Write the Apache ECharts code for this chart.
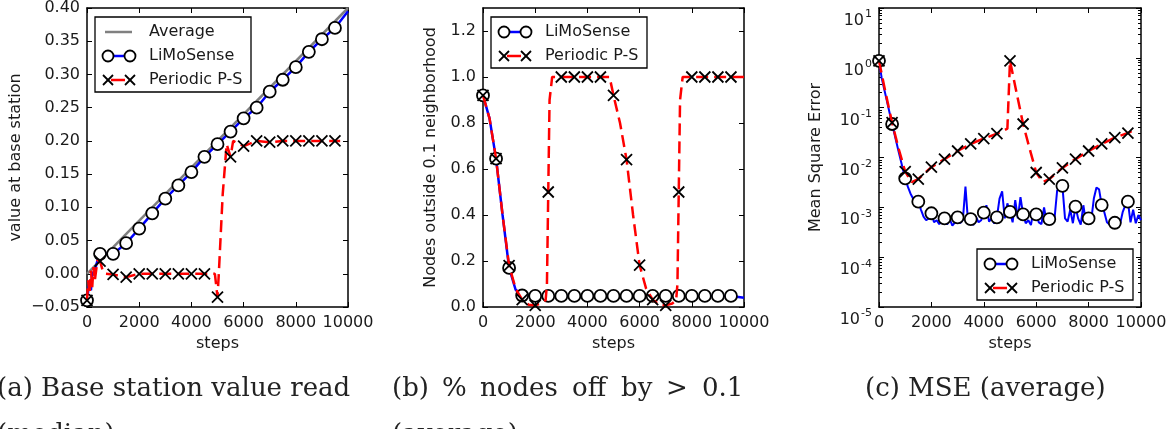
<!DOCTYPE html>
<html>
<head>
<meta charset="utf-8">
<script src="https://cdn.jsdelivr.net/npm/echarts@6/dist/echarts.min.js"></script>
<style>
  html, body { margin: 0; padding: 0; background: #fff; }
  #chart { width: 1173px; height: 429px; }
</style>
</head>
<body>
<div id="chart"></div>
<script>
// (a) value read at the base station (median)
const baseAvgSteps = [0, 10000];
const baseAvgValues = [0.0, 0.40];
const baseLimoSteps = [0, 100, 150, 200, 300, 400, 500, 1000, 1500, 2000, 2500, 3000, 3500, 4000, 4500,
    5000, 5500, 6000, 6500, 7000, 7500, 8000, 8500, 9000, 9500, 10000];
const baseLimoValues = [-0.04, -0.01, -0.025, 0.0, 0.005, 0.02, 0.03, 0.03, 0.046, 0.068, 0.091, 0.113, 0.133, 0.153, 0.176,
    0.195, 0.214, 0.234, 0.25, 0.274, 0.292, 0.311, 0.334, 0.353, 0.37, 0.395];
const basePsSteps = [0, 50, 100, 150, 200, 250, 300, 400, 500, 600, 700, 1000, 1500, 2000, 2500, 3000, 3500, 4000, 4500,
    4900, 5000, 5050, 5200, 5350, 5500, 5600, 6000, 6500, 7000, 7500, 8000, 8500, 9000, 9500, 9700];
const basePsValues = [-0.04, -0.01, -0.03, 0.005, -0.02, 0.01, -0.01, 0.02, 0.019, 0.005, 0.0, -0.001, -0.005, 0.0, 0.0, 0.0, 0.0, 0.0, 0.0,
    0.0, -0.035, 0.0, 0.12, 0.195, 0.176, 0.2, 0.192, 0.2, 0.198, 0.2, 0.2, 0.2, 0.2, 0.2, 0.2];

// (b) share of nodes outside the 0.1 neighborhood (average)
const nodesLimoSteps = [0, 250, 500, 750, 1000, 1250, 1500, 2000, 2500, 3000, 3500, 4000, 4500, 5000,
    5500, 6000, 6500, 7000, 7500, 8000, 8500, 9000, 9500, 10000];
const nodesLimoValues = [0.92, 0.82, 0.645, 0.4, 0.17, 0.075, 0.05, 0.048, 0.048, 0.048, 0.048, 0.048, 0.048, 0.048,
    0.048, 0.048, 0.048, 0.048, 0.048, 0.048, 0.048, 0.048, 0.048, 0.04];
const nodesPsSteps = [0, 250, 500, 750, 1000, 1250, 1500, 1750, 2000, 2200, 2400, 2450, 2500, 2550, 2650, 3000, 3500, 4000, 4500,
    4850, 5000, 5250, 5500, 5750, 6000, 6250, 6500, 6750, 7000, 7250, 7400, 7450, 7500, 7550, 7650, 8000, 8500, 9000, 9500, 10000];
const nodesPsValues = [0.92, 0.82, 0.645, 0.4, 0.18, 0.08, 0.032, 0.01, 0.007, 0.015, 0.03, 0.1, 0.5, 0.9, 1.0, 1.0, 1.0, 1.0, 1.0,
    1.0, 0.92, 0.8, 0.641, 0.4, 0.182, 0.08, 0.032, 0.01, 0.007, 0.015, 0.03, 0.1, 0.5, 0.9, 1.0, 1.0, 1.0, 1.0, 1.0, 1.0];

// (c) mean square error (average)
const mseLimoSteps = [0, 100, 250, 500, 750,
    1000, 1100, 1200, 1300, 1400, 1500, 1600, 1700, 1800, 1900,
    2000, 2100, 2200, 2300, 2400, 2500, 2600, 2700, 2800, 2900,
    3000, 3100, 3200, 3300, 3400, 3500, 3600, 3700, 3800, 3900,
    4000, 4100, 4200, 4300, 4400, 4500, 4600, 4700, 4800, 4900,
    5000, 5100, 5200, 5300, 5400, 5500, 5600, 5700, 5800, 5900,
    6000, 6100, 6200, 6300, 6400, 6500, 6600, 6700, 6800, 6900,
    7000, 7100, 7200, 7300, 7400, 7500, 7600, 7700, 7800, 7900,
    8000, 8100, 8200, 8300, 8400, 8500, 8600, 8700, 8800, 8900,
    9000, 9100, 9200, 9300, 9400, 9500, 9600, 9700, 9800, 9900,
    10000];
const mseLimoValues = [0.87, 0.4, 0.18, 0.047, 0.013,
    3.8e-3, 2.6e-3, 1.9e-3, 1.5e-3, 1.3e-3, 1.3e-3, 9e-4, 6.5e-4, 5.5e-4, 6e-4,
    7.6e-4, 5e-4, 5.5e-4, 4.6e-4, 5.2e-4, 6e-4, 4.5e-4, 5.8e-4, 4.3e-4, 5e-4,
    6.3e-4, 4.8e-4, 5.6e-4, 2.6e-3, 5e-4, 5.8e-4, 4.4e-4, 6.5e-4, 5e-4, 5.5e-4,
    7.8e-4, 1.1e-3, 5.2e-4, 6e-4, 4.7e-4, 6.3e-4, 1.5e-3, 2.1e-3, 6e-4, 1.2e-3,
    8.1e-4, 5e-4, 1.4e-3, 6e-4, 1.6e-3, 7.2e-4, 4.8e-4, 5.5e-4, 4.4e-4, 9e-4,
    7.2e-4, 5e-4, 4.6e-4, 1e-3, 5e-4, 5.8e-4, 4.6e-4, 6e-4, 2.2e-3, 2.4e-3,
    2.7e-3, 6e-4, 5.2e-4, 9e-4, 4.8e-4, 1.03e-3, 6e-4, 4.5e-4, 1.1e-3, 5e-4,
    6e-4, 5.5e-4, 1.5e-3, 2.5e-3, 2.3e-3, 1.11e-3, 8e-4, 5e-4, 4.5e-4, 5e-4,
    4.9e-4, 6e-4, 4.6e-4, 8e-4, 1.1e-3, 1.3e-3, 5e-4, 9e-4, 4.8e-4, 7e-4,
    5.5e-4];
const msePsSteps = [0, 250, 500, 750, 1000, 1250, 1500, 2000, 2500, 3000, 3500, 4000, 4500, 4900,
    5000, 5250, 5500, 5750, 6000, 6250, 6500, 7000, 7500, 8000, 8500, 9000, 9500, 9700];
const msePsValues = [0.87, 0.2, 0.05, 0.015, 0.0052, 0.0032, 0.0037, 0.0064, 0.0093, 0.0135, 0.0187, 0.024, 0.03, 0.038,
    0.87, 0.2, 0.047, 0.015, 0.005, 0.0032, 0.0037, 0.0062, 0.0093, 0.0135, 0.0187, 0.025, 0.031, 0.035];

const FONT = 'DejaVu Sans';
const TEXT = '#1a1a1a';
const CROSS = 'path://M0,0L10,10M10,0L0,10';

const grids = [
    {left: 87, top: 8, width: 261, height: 299},
    {left: 483, top: 8, width: 261, height: 299},
    {left: 879, top: 8, width: 262, height: 299},
];

function pairs(steps, values) {
    return steps.map((s, i) => [s, values[i]]);
}

// markers sit on every 500th step, like matplotlib's markevery
function markerSize(size) {
    return (val) => (val[0] % 500 === 0 && val[0] < 10000 ? size : 0);
}

const axisLine = {onZero: false, lineStyle: {color: '#000', width: 1.5}};
const axisTick = {inside: true, length: 5, lineStyle: {color: '#000', width: 1}};
const labelStyle = {fontFamily: FONT, fontSize: 16, color: TEXT};

function xAxes(gridIndex) {
    const common = {
        gridIndex, type: 'value', min: 0, max: 10000, interval: 2000,
        axisLine, axisTick, splitLine: {show: false},
    };
    return [
        {
            ...common, position: 'bottom',
            name: 'steps', nameLocation: 'middle', nameGap: 27, nameTextStyle: labelStyle,
            axisLabel: {...labelStyle, margin: 8, formatter: (v) => String(v)},
        },
        {...common, position: 'top', axisLabel: {show: false}},
    ];
}

function yAxes(gridIndex, scale, name, nameGap, axisLabel) {
    const common = {gridIndex, ...scale, axisLine, axisTick, splitLine: {show: false}};
    return [
        {
            ...common, position: 'left',
            name, nameLocation: 'middle', nameGap, nameTextStyle: labelStyle,
            axisLabel: {...labelStyle, margin: 7, ...axisLabel},
        },
        {...common, position: 'right', axisLabel: {show: false}},
    ];
}

function limoSeries(gridIndex, data, width) {
    return {
        type: 'line', xAxisIndex: gridIndex * 2, yAxisIndex: gridIndex * 2,
        data, symbol: 'circle', symbolSize: markerSize(12),
        lineStyle: {color: '#0000ff', width},
        itemStyle: {color: '#fff', borderColor: '#000', borderWidth: 1.8},
        animation: false, z: 3,
    };
}

function psSeries(gridIndex, data) {
    return {
        type: 'line', xAxisIndex: gridIndex * 2, yAxisIndex: gridIndex * 2,
        data, symbol: CROSS, symbolSize: markerSize(11),
        lineStyle: {color: '#ff0000', width: 2.5, type: [12, 6]},
        itemStyle: {color: 'transparent', borderColor: '#000', borderWidth: 1.8},
        animation: false, z: 4,
    };
}

// matplotlib-style legend box: handle with a marker at each end, then the label
function legendBox(x, y, entries) {
    const rowH = 24;
    const els = [{
        type: 'rect', z: 100,
        shape: {x, y, width: 156, height: 27 + rowH * (entries.length - 1)},
        style: {fill: '#fff', stroke: '#000', lineWidth: 1.3},
    }];
    entries.forEach((e, i) => {
        const cy = y + 15 + i * rowH;
        if (e.kind === 'avg') {
            els.push({type: 'line', z: 101, shape: {x1: x + 10, y1: cy, x2: x + 37, y2: cy},
                style: {stroke: '#808080', lineWidth: 2.5}});
        } else if (e.kind === 'limo') {
            els.push({type: 'line', z: 101, shape: {x1: x + 13, y1: cy, x2: x + 35, y2: cy},
                style: {stroke: '#0000ff', lineWidth: 2.5}});
            [x + 13, x + 35].forEach((cx) => els.push({type: 'circle', z: 102,
                shape: {cx, cy, r: 5.5}, style: {fill: '#fff', stroke: '#000', lineWidth: 1.8}}));
        } else {
            els.push({type: 'line', z: 101, shape: {x1: x + 16, y1: cy, x2: x + 30, y2: cy},
                style: {stroke: '#ff0000', lineWidth: 2.5}});
            [x + 13, x + 35].forEach((cx) => els.push({type: 'polyline', z: 102,
                shape: {points: [[cx - 5, cy - 5], [cx + 5, cy + 5]]}, style: {stroke: '#000', lineWidth: 1.8}},
                {type: 'polyline', z: 102,
                shape: {points: [[cx + 5, cy - 5], [cx - 5, cy + 5]]}, style: {stroke: '#000', lineWidth: 1.8}}));
        }
        els.push({type: 'text', z: 101, style: {
            text: e.name, x: x + 54, y: cy, fill: TEXT, font: '16px "DejaVu Sans"',
            textVerticalAlign: 'middle', verticalAlign: 'middle',
        }});
    });
    return els;
}

function caption(text, x, y) {
    return {type: 'text', z: 100, style: {
        text, x, y, fill: '#222', font: '26px "DejaVu Serif"',
        textVerticalAlign: 'middle', verticalAlign: 'middle',
    }};
}

function getOption() {
    const baseLabel = {
        formatter: (v) => (Math.abs(v) < 1e-9 ? '0.00' : (v < 0 ? '\u2212' : '') + Math.abs(v).toFixed(2)),
    };
    const nodesLabel = {formatter: (v) => v.toFixed(1), showMaxLabel: false};
    const mseLabel = {
        formatter: (v) => '{b|10}{s|' + Math.round(Math.log10(v)) + '}',
        rich: {
            b: {fontFamily: FONT, fontSize: 16, color: TEXT, lineHeight: 16, padding: [13, 0, 0, 0], verticalAlign: 'top'},
            s: {fontFamily: FONT, fontSize: 11, color: TEXT, lineHeight: 11, padding: [9, 0, 0, 1], verticalAlign: 'top'},
        },
    };

    const legends = [
        ...legendBox(95, 17, [
            {kind: 'avg', name: 'Average'},
            {kind: 'limo', name: 'LiMoSense'},
            {kind: 'ps', name: 'Periodic P-S'},
        ]),
        ...legendBox(491, 17, [
            {kind: 'limo', name: 'LiMoSense'},
            {kind: 'ps', name: 'Periodic P-S'},
        ]),
        ...legendBox(977, 249, [
            {kind: 'limo', name: 'LiMoSense'},
            {kind: 'ps', name: 'Periodic P-S'},
        ]),
    ];

    const captionB = [['(b)', 392], ['%', 442], ['nodes', 480], ['off', 572], ['by', 621], ['>', 666], ['0.1', 702]];
    const captions = [
        caption('(a) Base station value read', -3, 389),
        caption('(median)', -3, 435),
        ...captionB.map(([w, x]) => caption(w, x, 389)),
        caption('(average)', 392, 435),
        caption('(c) MSE (average)', 865, 389),
    ];

    return {
        animation: false,
        backgroundColor: '#fff',
        grid: grids,
        xAxis: [...xAxes(0), ...xAxes(1), ...xAxes(2)],
        yAxis: [
            ...yAxes(0, {type: 'value', min: -0.05, max: 0.40, interval: 0.05}, 'value at base station', 63, baseLabel),
            ...yAxes(1, {type: 'value', min: 0, max: 1.3, interval: 0.2}, 'Nodes outside 0.1 neighborhood', 44, nodesLabel),
            ...yAxes(2, {type: 'log', logBase: 10, min: 1e-5, max: 10, interval: 1,
                minorTick: {show: true, splitNumber: 9, length: 3, lineStyle: {color: '#000'}}},
                'Mean Square Error', 55, mseLabel),
        ],
        series: [
            {
                type: 'line', xAxisIndex: 0, yAxisIndex: 0, data: pairs(baseAvgSteps, baseAvgValues),
                symbol: 'none', lineStyle: {color: '#808080', width: 2.5}, animation: false, z: 2,
            },
            limoSeries(0, pairs(baseLimoSteps, baseLimoValues), 2.5),
            psSeries(0, pairs(basePsSteps, basePsValues)),
            limoSeries(1, pairs(nodesLimoSteps, nodesLimoValues), 2.5),
            psSeries(1, pairs(nodesPsSteps, nodesPsValues)),
            limoSeries(2, pairs(mseLimoSteps, mseLimoValues), 2),
            psSeries(2, pairs(msePsSteps, msePsValues)),
        ],
        graphic: [...legends, ...captions],
    };
}

function main() {
    const chart = echarts.init(document.getElementById('chart'));
    chart.setOption(getOption());
}

main();
</script>
</body>
</html>
